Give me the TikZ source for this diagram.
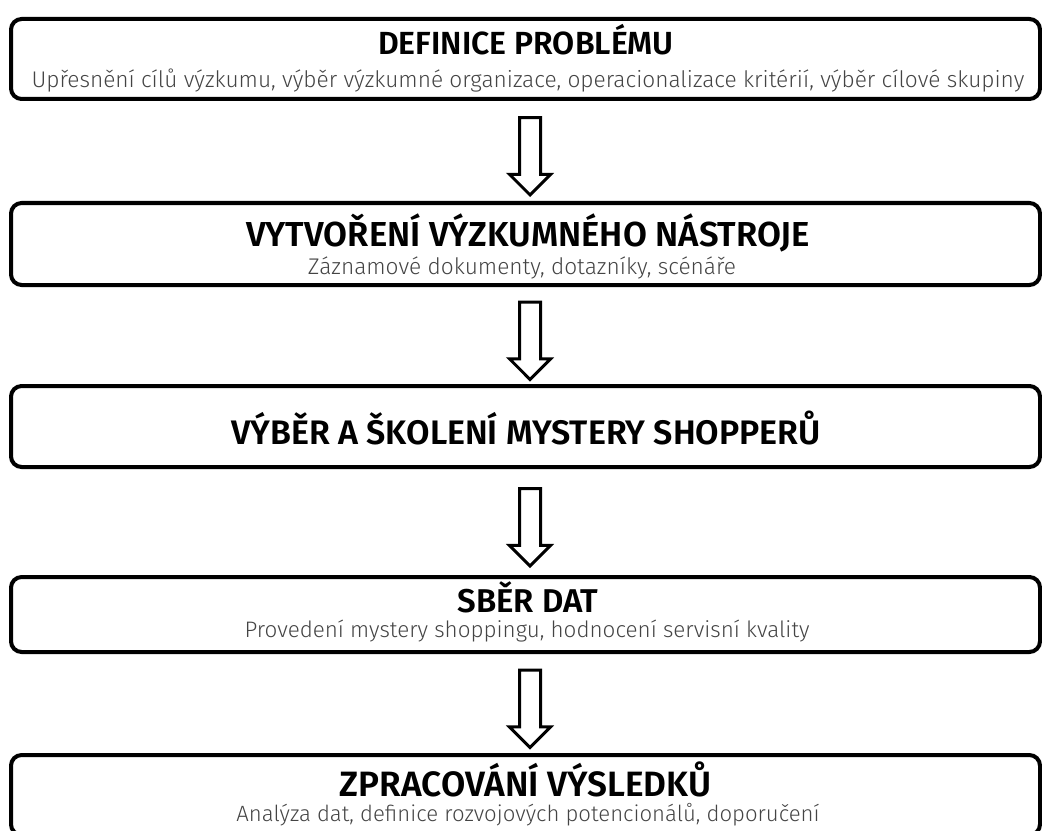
\documentclass[tikz,border=0pt]{standalone}
\usepackage{fontspec}
\setmainfont{Fira Sans}
\newfontfamily\titlefont{Fira Sans SemiBold}
\newfontfamily\subfont{Fira Sans Light}
\usetikzlibrary{calc,shapes.arrows}
\definecolor{subgray}{HTML}{444444}

\begin{document}
\begin{tikzpicture}[x=0.75pt,y=-0.75pt,
  krok/.style={draw,line width=3pt,rounded corners=8pt,minimum width=771.75pt,
               minimum height=#1,inner sep=0pt},
  titul/.style={anchor=base,inner sep=0pt,
                font=\titlefont\fontsize{#1}{#1}\selectfont},
  popis/.style={anchor=base,inner sep=0pt,text=subgray,
                font=\subfont\fontsize{#1}{#1}\selectfont},
  sipka/.style={single arrow,draw,line width=2.25pt,shape border rotate=270,
                minimum height=58pt,inner sep=6.75pt,single arrow head extend=7.5pt,
                xshift=3.4pt}]
  \useasboundingbox (0,0) rectangle (1042,831);
  % kroky
  \node[krok=60pt] (definice) at (525.5,59) {};
  \node[krok=61.5pt] (nastroj) at (525.5,244) {};
  \node[krok=60.75pt] (skoleni) at (525.5,426.5) {};
  \node[krok=56.25pt] (sber) at (525.5,614.5) {};
  \node[krok=60pt] (zpracovani) at (525.5,795) {};
  % texty
  \node[titul=24pt] (definice-t) at (526,55) {DEFINICE PROBLÉMU};
  \node[popis=17pt] (definice-p) at (528,88)
    {Upřesnění cílů výzkumu, výběr výzkumné organizace, operacionalizace kritérií, výběr cílové skupiny};
  \node[titul=26pt] (nastroj-t) at (528,246) {VYTVOŘENÍ VÝZKUMNÉHO NÁSTROJE};
  \node[popis=17pt] (nastroj-p) at (522,274) {Záznamové dokumenty, dotazníky, scénáře};
  \node[titul=25.5pt] (skoleni-t) at (526,444) {VÝBĚR A ŠKOLENÍ MYSTERY SHOPPERŮ};
  \node[titul=24.7pt] (sber-t) at (528,612) {SBĚR DAT};
  \node[popis=16.8pt] (sber-p) at (527,637)
    {Provedení mystery shoppingu, hodnocení servisní kvality};
  \node[titul=26.4pt] (zpracovani-t) at (525.5,796) {ZPRACOVÁNÍ VÝSLEDKŮ};
  \node[popis=16.6pt] (zpracovani-p) at (528,821)
    {Analýza dat, definice rozvojových potencionálů, doporučení};
  % sipky
  \node[sipka] (s1) at ($(definice.south)!.5!(nastroj.north)$) {};
  \node[sipka] (s2) at ($(nastroj.south)!.5!(skoleni.north)$) {};
  \node[sipka] (s3) at ($(skoleni.south)!.5!(sber.north)$) {};
  \node[sipka] (s4) at ($(sber.south)!.5!(zpracovani.north)$) {};
\end{tikzpicture}
\end{document}
